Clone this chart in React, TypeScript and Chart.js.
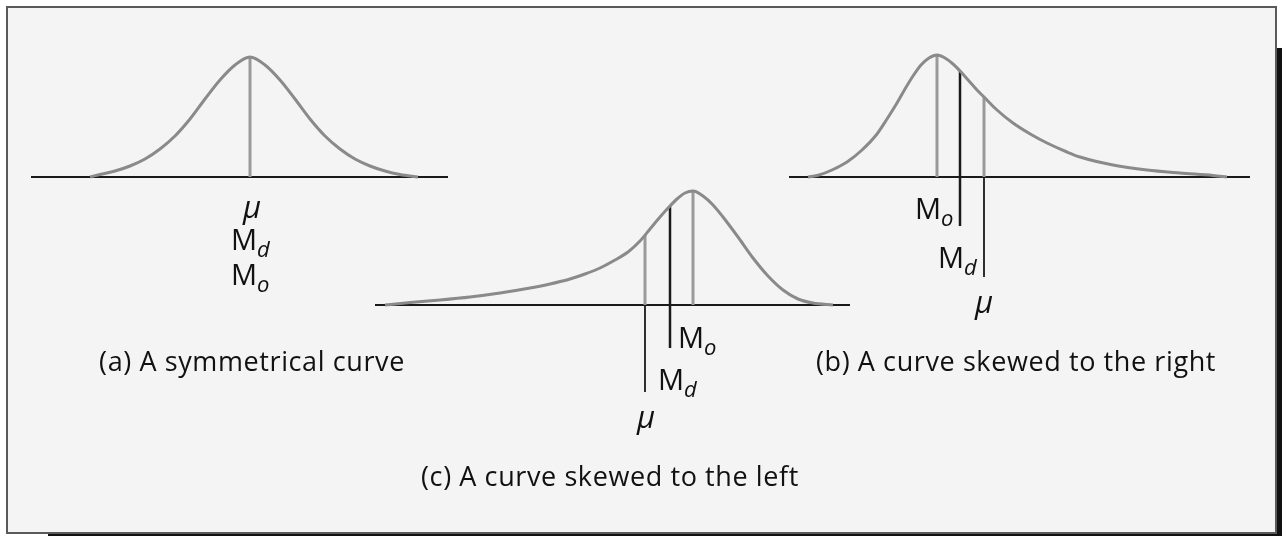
import React, { useEffect, useRef } from "react";
import { Chart, registerables } from "chart.js";

Chart.register(...registerables);

// ---- data (diagram units: x along the page, h = height above each baseline) ----
const CURVE_A_X = [90, 100, 115, 130, 145, 160, 175, 190, 205, 220, 235, 250, 265, 280, 295, 310, 325, 340, 355, 370, 385, 400, 418];
const CURVE_A_H = [0, 2.5, 6, 11, 18, 28, 41, 58, 78, 97, 112, 120, 112, 97, 78, 58, 41, 28, 18, 11, 6, 2.5, 0];

const CURVE_B_X = [808, 819, 832, 847, 862, 877, 887, 897, 905, 913, 921, 929, 937, 945, 953, 961, 969, 977, 984, 997, 1013, 1032, 1047, 1067, 1080, 1113, 1147, 1180, 1213, 1227];
const CURVE_B_H = [0, 2, 7, 15, 27, 43, 58, 74, 88, 101, 112, 119, 122, 119, 113, 105, 96, 87, 80, 67, 54, 42, 34, 25, 20, 12, 7, 4, 1.5, 0];

const CURVE_C_X = [385, 410, 440, 470, 500, 530, 550, 570, 585, 600, 615, 628, 640, 650, 660, 669, 677, 685, 693, 703, 713, 723, 738, 753, 768, 783, 798, 813, 833];
const CURVE_C_H = [0, 2.5, 5, 8, 12, 17, 21, 26, 31, 37, 45, 53, 64, 76, 88, 98, 106, 112, 114, 109, 100, 88, 68, 47, 29, 15, 6, 2, 0];

// measures: [mode, median, mean] positions and heights where they meet the curve
const A_MEASURE_X = [250];
const A_MEASURE_H = [120];
const B_MEASURE_X = [937, 960, 984];
const B_MEASURE_H = [122, 106, 80];
const C_MEASURE_X = [693, 670, 645];
const C_MEASURE_H = [114, 99, 70];
// how far the median / mean lines reach below the axis (leader lines to labels)
const B_LEADER_DEPTH = [0, 49, 100];
const C_LEADER_DEPTH = [0, 43, 87];

const CAPTIONS = [
  "(a) A symmetrical curve",
  "(b) A curve skewed to the right",
  "(c) A curve skewed to the left",
];

// ---- layout ----
const W = 1282;
const H = 536;
const BASE_A = 177;
const BASE_B = 177;
const BASE_C = 305;
const AXIS_A = [31, 448];
const AXIS_B = [789, 1250];
const AXIS_C = [375, 850];

const CURVE_COLOR = "#8a8a8a";
const GRAY_LINE = "#9a9a9a";
const BLACK = "#1a1a1a";
const FONT = "'Open Sans', 'Noto Sans', sans-serif";
const TEXT_COLOR = "#111111";

function curve(xs: number[], hs: number[], base: number) {
  return xs.map((x, i) => ({ x, y: base - hs[i] }));
}

function seg(x1: number, y1: number, x2: number, y2: number, color: string, width: number, order: number) {
  return {
    data: [{ x: x1, y: y1 }, { x: x2, y: y2 }],
    borderColor: color,
    borderWidth: width,
    showLine: true,
    pointRadius: 0,
    tension: 0,
    clip: false as any,
    order,
  };
}

function curveDs(xs: number[], hs: number[], base: number) {
  return {
    data: curve(xs, hs, base),
    borderColor: CURVE_COLOR,
    borderWidth: 3,
    showLine: true,
    pointRadius: 0,
    cubicInterpolationMode: "monotone" as const,
    clip: false as any,
    order: 1,
  };
}

function buildDatasets() {
  const ds: any[] = [];
  // axes
  ds.push(seg(AXIS_A[0], BASE_A, AXIS_A[1], BASE_A, BLACK, 2, 4));
  ds.push(seg(AXIS_B[0], BASE_B, AXIS_B[1], BASE_B, BLACK, 2, 4));
  ds.push(seg(AXIS_C[0], BASE_C, AXIS_C[1], BASE_C, BLACK, 2, 4));
  // curves
  ds.push(curveDs(CURVE_A_X, CURVE_A_H, BASE_A));
  ds.push(curveDs(CURVE_B_X, CURVE_B_H, BASE_B));
  ds.push(curveDs(CURVE_C_X, CURVE_C_H, BASE_C));
  // symmetric: single gray line
  ds.push(seg(A_MEASURE_X[0], BASE_A - A_MEASURE_H[0], A_MEASURE_X[0], BASE_A, GRAY_LINE, 3, 2));
  // skewed: mode gray, median black (crossing the axis), mean gray above + black leader below
  const skewed = [
    [B_MEASURE_X, B_MEASURE_H, B_LEADER_DEPTH, BASE_B],
    [C_MEASURE_X, C_MEASURE_H, C_LEADER_DEPTH, BASE_C],
  ] as [number[], number[], number[], number][];
  for (const [xs, hs, depth, base] of skewed) {
    ds.push(seg(xs[0], base - hs[0], xs[0], base, GRAY_LINE, 3, 2));
    ds.push(seg(xs[1], base - hs[1], xs[1], base + depth[1], BLACK, 2.5, 2));
    ds.push(seg(xs[2], base - hs[2], xs[2], base, GRAY_LINE, 3, 2));
    ds.push(seg(xs[2], base, xs[2], base + depth[2], BLACK, 1.8, 2));
  }
  return ds;
}

const abs = (left: number, top: number, extra: React.CSSProperties = {}): React.CSSProperties => ({
  position: "absolute",
  left,
  top,
  fontFamily: FONT,
  color: TEXT_COLOR,
  lineHeight: 1,
  whiteSpace: "nowrap",
  ...extra,
});

function MLabel({ sub, left, cy }: { sub: string; left: number; cy: number }) {
  return (
    <div style={abs(left, cy, { transform: "translateY(-50%)", fontSize: 29 })}>
      M
      <span style={{ fontStyle: "italic", fontSize: 22, position: "relative", top: 7 }}>{sub}</span>
    </div>
  );
}

function Mu({ cx, cy }: { cx: number; cy: number }) {
  return (
    <div style={abs(cx, cy, { transform: "translate(-50%,-50%)", fontSize: 31, fontStyle: "italic" })}>μ</div>
  );
}

function Caption({ text, cx, cy }: { text: string; cx: number; cy: number }) {
  return (
    <div style={abs(cx, cy, { transform: "translate(-50%,-50%)", fontSize: 27, letterSpacing: 0.6 })}>{text}</div>
  );
}

export default function App() {
  const ref = useRef<HTMLCanvasElement | null>(null);

  useEffect(() => {
    if (!ref.current) return;
    const chart = new Chart(ref.current, {
      type: "scatter",
      data: { datasets: buildDatasets() },
      options: {
        animation: false,
        responsive: false,
        maintainAspectRatio: false,
        events: [],
        layout: { padding: 0 },
        plugins: { legend: { display: false }, tooltip: { enabled: false } },
        scales: {
          x: { type: "linear", min: 0, max: W, display: false },
          y: { type: "linear", min: 0, max: H, reverse: true, display: false },
        },
      },
    });
    return () => chart.destroy();
  }, []);

  return (
    <div style={{ position: "fixed", left: 0, top: 0, width: W, height: H, background: "#ffffff", overflow: "hidden" }}>
      <div style={{ position: "absolute", left: 48, top: 48, width: W, height: H, background: "#111" }} />
      <div
        style={{
          position: "absolute",
          left: 6,
          top: 6,
          width: 1271,
          height: 528,
          boxSizing: "border-box",
          border: "2px solid #5a5a5a",
          background: "#f4f4f4",
        }}
      />
      <canvas ref={ref} width={W} height={H} style={{ position: "absolute", left: 0, top: 0, width: W, height: H }} />
      {/* (a) labels */}
      <Mu cx={252} cy={206} />
      <MLabel sub="d" left={231} cy={238} />
      <MLabel sub="o" left={231} cy={273} />
      {/* (c) labels */}
      <MLabel sub="o" left={678} cy={336} />
      <MLabel sub="d" left={658} cy={378} />
      <Mu cx={646} cy={416} />
      {/* (b) labels */}
      <MLabel sub="o" left={915} cy={207} />
      <MLabel sub="d" left={938} cy={256} />
      <Mu cx={984} cy={301} />
      <Caption text={CAPTIONS[0]} cx={252} cy={360} />
      <Caption text={CAPTIONS[1]} cx={1016} cy={360} />
      <Caption text={CAPTIONS[2]} cx={610} cy={475} />
    </div>
  );
}
